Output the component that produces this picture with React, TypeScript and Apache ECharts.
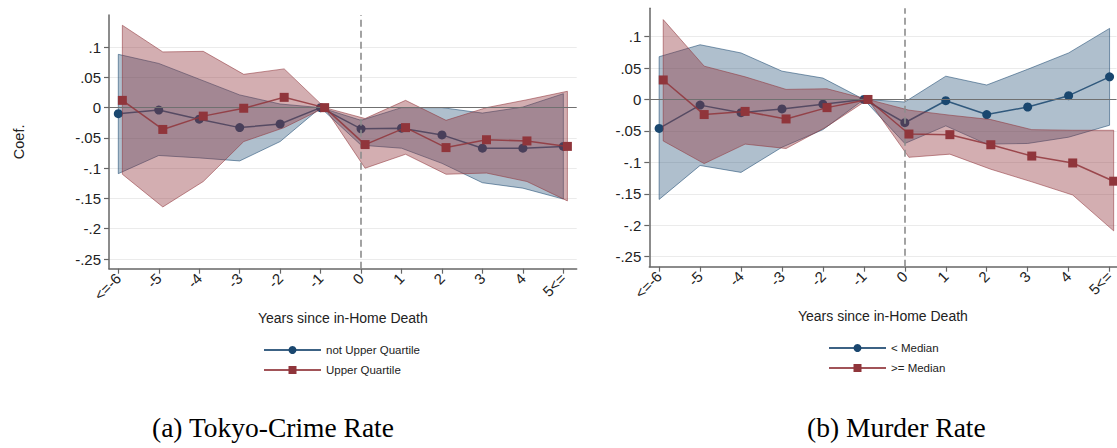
import React, { useEffect, useRef } from "react";
import * as echarts from "echarts";

// ---------- data ----------
const years = [-6, -5, -4, -3, -2, -1, 0, 1, 2, 3, 4, 5];
const xTickLabels = ["<=-6", "-5", "-4", "-3", "-2", "-1", "0", "1", "2", "3", "4", "5<="];
const yTicks = [-0.25, -0.2, -0.15, -0.1, -0.05, 0, 0.05, 0.1];
const redShift = 0.1; // the second group is drawn slightly to the right

// Panel (a) Tokyo-Crime Rate
const aNotUpper = [-0.01, -0.004, -0.019, -0.033, -0.027, 0, -0.035, -0.034, -0.045, -0.067, -0.067, -0.064];
const aNotUpperHi = [0.088, 0.073, 0.047, 0.021, 0.006, 0, -0.021, 0.0, 0.0, -0.009, 0.001, 0.023];
const aNotUpperLo = [-0.109, -0.079, -0.083, -0.088, -0.056, 0, -0.062, -0.067, -0.092, -0.124, -0.133, -0.151];
const aUpper = [0.012, -0.036, -0.014, -0.001, 0.017, 0, -0.061, -0.033, -0.066, -0.053, -0.055, -0.064];
const aUpperHi = [0.136, 0.092, 0.093, 0.055, 0.064, 0, -0.018, 0.012, -0.021, 0.0, 0.013, 0.027];
const aUpperLo = [-0.11, -0.164, -0.122, -0.056, -0.033, 0, -0.1, -0.077, -0.11, -0.108, -0.122, -0.154];

// Panel (b) Murder Rate
const bBelow = [-0.046, -0.009, -0.021, -0.015, -0.0075, 0, -0.037, -0.002, -0.024, -0.012, 0.006, 0.036];
const bBelowHi = [0.068, 0.087, 0.074, 0.045, 0.034, 0, -0.004, 0.037, 0.023, 0.048, 0.074, 0.113];
const bBelowLo = [-0.159, -0.105, -0.116, -0.076, -0.048, 0, -0.07, -0.042, -0.071, -0.07, -0.06, -0.041];
const bAbove = [0.031, -0.024, -0.019, -0.031, -0.013, 0, -0.055, -0.056, -0.072, -0.09, -0.101, -0.13];
const bAboveHi = [0.127, 0.053, 0.036, 0.016, 0.017, 0, -0.017, -0.025, -0.032, -0.048, -0.049, -0.049];
const bAboveLo = [-0.066, -0.102, -0.071, -0.078, -0.043, 0, -0.092, -0.087, -0.111, -0.131, -0.152, -0.209];

const seriesNames = {
  a: ["not Upper Quartile", "Upper Quartile"],
  b: ["< Median", ">= Median"],
};
const captions = ["(a) Tokyo-Crime Rate", "(b) Murder Rate"];
const xTitle = "Years since in-Home Death";
const yTitle = "Coef.";

// ---------- styles ----------
const NAVY = "#1a476f";
const MAROON = "#90353b";
const AXIS = "#666666";
const SANS = "'Liberation Sans', Arial, Helvetica, sans-serif";
const SERIF = "'Liberation Serif', 'Times New Roman', serif";

const fmtY = (v: number) => (v === 0 ? "0" : String(v).replace("0.", "."));
const fmtX = (v: number) => {
  const i = years.indexOf(Math.round(v));
  return i >= 0 ? xTickLabels[i] : "";
};

function bandSeries(idx: number, xs: number[], lo: number[], hi: number[], fill: string, stroke: string, z: number) {
  return {
    type: "custom",
    xAxisIndex: idx,
    yAxisIndex: idx,
    silent: true,
    z,
    data: [[xs[0], lo[0]]],
    renderItem: (_params: any, api: any) => {
      const pts: number[][] = [];
      for (let i = 0; i < xs.length; i++) pts.push(api.coord([xs[i], hi[i]]));
      for (let i = xs.length - 1; i >= 0; i--) pts.push(api.coord([xs[i], lo[i]]));
      return {
        type: "polygon",
        shape: { points: pts },
        style: { fill, stroke, lineWidth: 1 },
      };
    },
  };
}

function lineSeries(idx: number, name: string, xs: number[], ys: number[], color: string, symbol: string, z: number) {
  return {
    type: "line",
    name,
    xAxisIndex: idx,
    yAxisIndex: idx,
    z,
    data: xs.map((x, i) => [x, ys[i]]),
    symbol,
    symbolSize: 9,
    showSymbol: true,
    itemStyle: { color, opacity: 1 },
    lineStyle: { color, width: 1.5, opacity: 0.85 },
    emphasis: { disabled: true },
  };
}

function refSeries(idx: number) {
  return {
    type: "line",
    xAxisIndex: idx,
    yAxisIndex: idx,
    data: [],
    z: 1,
    silent: true,
    markLine: {
      silent: true,
      symbol: ["none", "none"],
      label: { show: false },
      data: [
        { yAxis: 0, lineStyle: { color: "#707070", width: 1, type: "solid" } },
        { xAxis: 0, lineStyle: { color: "#8c8c8c", width: 1.6, type: [7, 4] } },
      ],
    },
  };
}

function xAxisCfg(idx: number, min: number, max: number) {
  return {
    gridIndex: idx,
    type: "value",
    min,
    max,
    axisLine: { show: true, onZero: false, lineStyle: { color: AXIS, width: 1.5 } },
    axisTick: { show: true, length: 5, customValues: years, lineStyle: { color: AXIS, width: 1.2 } },
    axisLabel: {
      customValues: years,
      formatter: fmtX,
      rotate: 45,
      margin: 7,
      fontSize: 15,
      color: "#222",
      fontFamily: SANS,
    },
    splitLine: { show: false },
    name: xTitle,
    nameLocation: "middle",
    nameGap: 42,
    nameTextStyle: { fontSize: 14, color: "#222", fontFamily: SANS },
  };
}

function yAxisCfg(idx: number, min: number, max: number, withName: boolean) {
  return {
    gridIndex: idx,
    type: "value",
    min,
    max,
    axisLine: { show: true, onZero: false, lineStyle: { color: AXIS, width: 1.5 } },
    axisTick: { show: true, length: 5, customValues: yTicks, lineStyle: { color: AXIS, width: 1.2 } },
    axisLabel: {
      customValues: yTicks,
      formatter: fmtY,
      margin: 8,
      fontSize: 15,
      color: "#222",
      fontFamily: SANS,
    },
    splitLine: { show: true, lineStyle: { color: "#ebebeb", width: 1.2 } },
    name: withName ? yTitle : "",
    nameLocation: "middle",
    nameRotate: 90,
    nameGap: 83,
    nameTextStyle: { fontSize: 14.5, color: "#222", fontFamily: SANS },
  };
}

export default function App() {
  const ref = useRef<HTMLDivElement>(null);

  useEffect(() => {
    if (!ref.current) return;
    const chart = echarts.init(ref.current, undefined, { renderer: "svg" });
    const xsRed = years.map((y) => y + redShift);

    const legendCommon = {
      orient: "vertical",
      itemWidth: 57,
      itemHeight: 10,
      itemGap: 8,
      selectedMode: false,
      textStyle: { fontSize: 11.5, color: "#222", fontFamily: SANS },
    };

    const captionStyle = { fontFamily: SERIF, fontSize: 27.5, fontWeight: "normal", color: "#000" };

    const option: any = {
      animation: false,
      backgroundColor: "#ffffff",
      title: [
        { text: captions[0], left: 147, top: 408, textStyle: captionStyle },
        { text: captions[1], left: 802, top: 408, textStyle: captionStyle },
      ],
      legend: [
        { ...legendCommon, data: seriesNames.a, left: 258, top: 339 },
        { ...legendCommon, data: seriesNames.b, left: 823, top: 337 },
      ],
      grid: [
        { left: 109, top: 15, width: 467.7, height: 253.7, containLabel: false },
        { left: 649.3, top: 8.3, width: 467.7, height: 258.4, containLabel: false },
      ],
      xAxis: [xAxisCfg(0, -6.23, 5.33), xAxisCfg(1, -6.24, 5.17)],
      yAxis: [yAxisCfg(0, -0.266, 0.153, true), yAxisCfg(1, -0.266, 0.145, false)],
      series: [
        refSeries(0),
        bandSeries(0, years, aNotUpperLo, aNotUpperHi, "rgba(26,71,111,0.35)", "rgba(26,71,111,0.55)", 2),
        lineSeries(0, seriesNames.a[0], years, aNotUpper, NAVY, "circle", 3),
        bandSeries(0, xsRed, aUpperLo, aUpperHi, "rgba(144,53,59,0.4)", "rgba(144,53,59,0.55)", 4),
        lineSeries(0, seriesNames.a[1], xsRed, aUpper, MAROON, "rect", 5),

        refSeries(1),
        bandSeries(1, years, bBelowLo, bBelowHi, "rgba(26,71,111,0.35)", "rgba(26,71,111,0.55)", 2),
        lineSeries(1, seriesNames.b[0], years, bBelow, NAVY, "circle", 3),
        bandSeries(1, xsRed, bAboveLo, bAboveHi, "rgba(144,53,59,0.4)", "rgba(144,53,59,0.55)", 4),
        lineSeries(1, seriesNames.b[1], xsRed, bAbove, MAROON, "rect", 5),
      ],
    };

    chart.setOption(option);
    return () => chart.dispose();
  }, []);

  return (
    <div
      ref={ref}
      style={{ position: "absolute", left: 0, top: 0, width: 1117, height: 448, background: "#fff" }}
    />
  );
}
